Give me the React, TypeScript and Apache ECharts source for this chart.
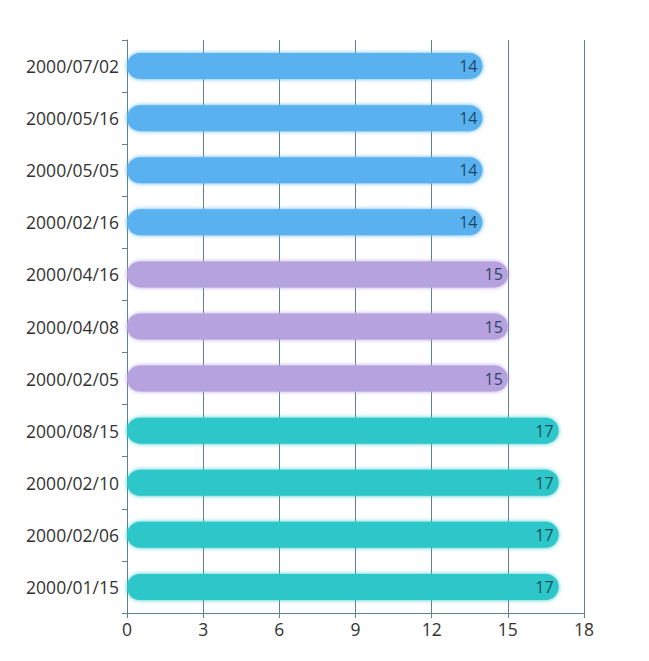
import React, { useEffect, useRef } from "react";
import * as echarts from "echarts";

const categories = [
  "2000/01/15",
  "2000/02/06",
  "2000/02/10",
  "2000/08/15",
  "2000/02/05",
  "2000/04/08",
  "2000/04/16",
  "2000/02/16",
  "2000/05/05",
  "2000/05/16",
  "2000/07/02",
];
const values = [17, 17, 17, 17, 15, 15, 15, 14, 14, 14, 14];
const valueColors: Record<number, string> = {
  17: "#2ec7c9",
  15: "#b6a2de",
  14: "#5ab1ef",
};
const xTicks = [0, 3, 6, 9, 12, 15, 18];

export default function App() {
  const ref = useRef<HTMLDivElement>(null);
  useEffect(() => {
    if (!ref.current) return;
    const chart = echarts.init(ref.current, undefined, { renderer: "svg" });
    const axisColor = "#5e8286";
    const font = "'Open Sans', 'Noto Sans', sans-serif";
    chart.setOption({
      animation: false,
      grid: { left: 127, right: 65, top: 40, bottom: 48 },
      xAxis: {
        type: "value",
        min: xTicks[0],
        max: xTicks[xTicks.length - 1],
        interval: 3,
        axisLine: { show: true, lineStyle: { color: axisColor, width: 1 } },
        axisTick: { show: true, length: 5, lineStyle: { color: axisColor } },
        splitLine: { show: true, lineStyle: { color: axisColor, width: 1 } },
        axisLabel: { color: "#333", fontSize: 17.5, fontFamily: font, margin: 7 },
      },
      yAxis: {
        type: "category",
        data: categories,
        axisLine: { show: true, lineStyle: { color: axisColor, width: 1 } },
        axisTick: { show: true, length: 5, lineStyle: { color: axisColor } },
        splitLine: { show: false },
        axisLabel: { color: "#333", fontSize: 17.5, fontFamily: font, margin: 8 },
      },
      series: [
        {
          type: "bar",
          barWidth: 26,
          data: values.map((v) => ({
            value: v,
            itemStyle: {
              color: valueColors[v],
              borderRadius: 13,
              shadowColor: valueColors[v],
              shadowBlur: 4,
            },
          })),
          label: {
            show: true,
            position: "insideRight",
            distance: 5,
            color: "rgba(10,40,60,0.8)",
            fontSize: 16,
            fontFamily: font,
          },
        },
      ],
    });
    return () => chart.dispose();
  }, []);
  return <div ref={ref} style={{ width: 649, height: 661, margin: -8 }} />;
}
